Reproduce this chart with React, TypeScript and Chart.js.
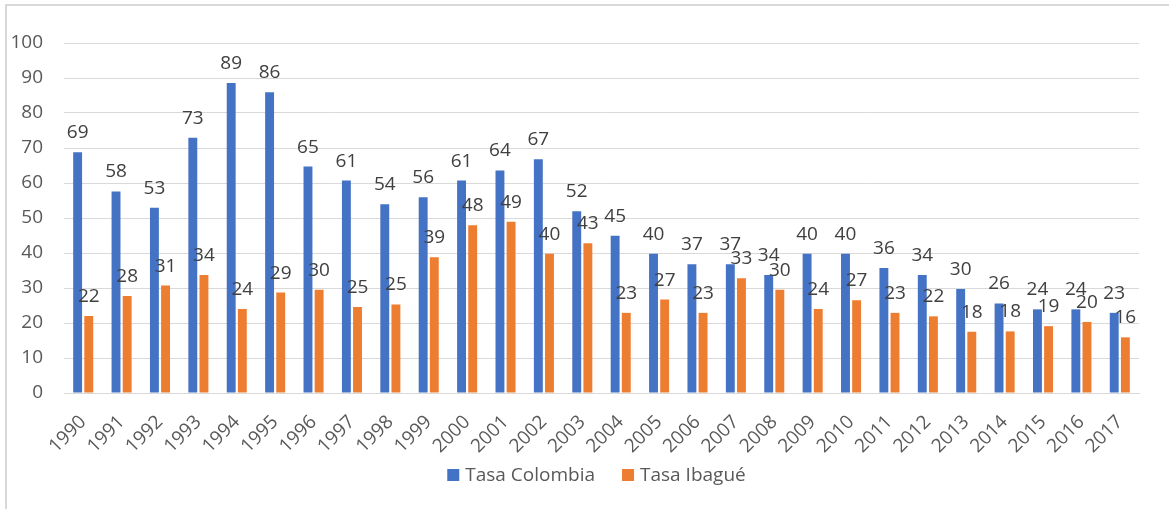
import React, { useEffect, useRef } from "react";
import { Chart, registerables } from "chart.js";

Chart.register(...registerables);

const years = ["1990","1991","1992","1993","1994","1995","1996","1997","1998","1999","2000","2001","2002","2003","2004","2005","2006","2007","2008","2009","2010","2011","2012","2013","2014","2015","2016","2017"];
const tasaColombia = [68.8,57.6,52.9,72.9,88.6,85.9,64.7,60.7,53.9,55.9,60.7,63.6,66.8,51.9,44.9,39.8,36.8,36.8,33.7,39.8,39.8,35.7,33.7,29.7,25.6,23.9,23.9,22.9];
const tasaIbague = [22.0,27.7,30.7,33.7,24.0,28.7,29.5,24.6,25.3,38.8,47.9,48.9,39.8,42.8,22.9,26.7,22.9,32.8,29.5,24.0,26.5,22.9,21.9,17.5,17.6,19.1,20.3,15.9];
const yTicksMax = 100;
const yStep = 10;

const FONT = "'Open Sans', sans-serif";
const TEXT = "#595959";
const GRID = "#d9d9d9";
const FS = 19;

const labelPlugin = {
  id: "dataLabels",
  afterDatasetsDraw(chart: any) {
    const ctx = chart.ctx;
    ctx.save();
    ctx.font = `${FS}px ${FONT}`;
    ctx.fillStyle = "#404040";
    ctx.textAlign = "center";
    ctx.textBaseline = "alphabetic";
    chart.data.datasets.forEach((ds: any, i: number) => {
      const meta = chart.getDatasetMeta(i);
      meta.data.forEach((bar: any, j: number) => {
        const v = Math.round(ds.data[j]);
        ctx.fillText(String(v), bar.x, bar.y - 14);
      });
    });
    ctx.restore();
  },
};

const legendPlugin = {
  id: "customLegend",
  afterDraw(chart: any) {
    const ctx = chart.ctx;
    ctx.save();
    ctx.font = `${FS}px ${FONT}`;
    ctx.textBaseline = "middle";
    ctx.textAlign = "left";
    const items = chart.data.datasets.map((ds: any) => ({ text: ds.label, color: ds.backgroundColor, w: ctx.measureText(ds.label).width }));
    const box = 12, gapText = 6, gapItem = 27;
    const total = items.reduce((s: number, it: any) => s + box + gapText + it.w, 0) + gapItem * (items.length - 1);
    const cx = (chart.chartArea.left + chart.chartArea.right) / 2 - 5;
    const cy = 475;
    let x = cx - total / 2;
    items.forEach((it: any) => {
      ctx.fillStyle = it.color;
      ctx.fillRect(x, cy - box / 2, box, box);
      ctx.fillStyle = TEXT;
      ctx.fillText(it.text, x + box + gapText, cy + 1);
      x += box + gapText + it.w + gapItem;
    });
    ctx.restore();
  },
};

const borderPlugin = {
  id: "frame",
  beforeDraw(chart: any) {
    const ctx = chart.ctx;
    ctx.save();
    ctx.fillStyle = "#ffffff";
    ctx.fillRect(0, 0, chart.width, chart.height);
    ctx.fillStyle = GRID;
    ctx.fillRect(5, 4, chart.width - 5, 2);
    ctx.fillRect(5, 4, 2, chart.height - 4);
    ctx.restore();
  },
};

export default function App() {
  const ref = useRef<HTMLCanvasElement>(null);
  useEffect(() => {
    document.body.style.margin = "0";
    const chart = new Chart(ref.current!, {
      type: "bar",
      data: {
        labels: years,
        datasets: [
          { label: "Tasa Colombia", data: tasaColombia, backgroundColor: "#4472C4", categoryPercentage: 0.58, barPercentage: 0.8 },
          { label: "Tasa Ibagué", data: tasaIbague, backgroundColor: "#ED7D31", categoryPercentage: 0.58, barPercentage: 0.8 },
        ],
      },
      options: {
        animation: false,
        responsive: false,
        maintainAspectRatio: false,
        layout: { padding: { top: 43, right: 30, left: 0, bottom: 52 } },
        scales: {
          x: {
            grid: { display: false, drawTicks: false },
            border: { color: GRID },
            ticks: { color: TEXT, font: { family: FONT, size: FS }, minRotation: 45, maxRotation: 45, padding: 18 },
            afterFit(scale: any) { scale.height = 64; },
          },
          y: {
            min: 0,
            max: yTicksMax,
            grid: { color: GRID, drawTicks: false },
            border: { display: false },
            ticks: { stepSize: yStep, color: TEXT, font: { family: FONT, size: FS }, padding: 21 },
            afterFit(scale: any) { scale.width = 64; },
          },
        },
        plugins: {
          legend: { display: false },
          tooltip: { enabled: false },
        },
      },
      plugins: [labelPlugin, legendPlugin, borderPlugin],
    });
    return () => chart.destroy();
  }, []);
  return <canvas ref={ref} width={1169} height={509} style={{ display: "block" }} />;
}
